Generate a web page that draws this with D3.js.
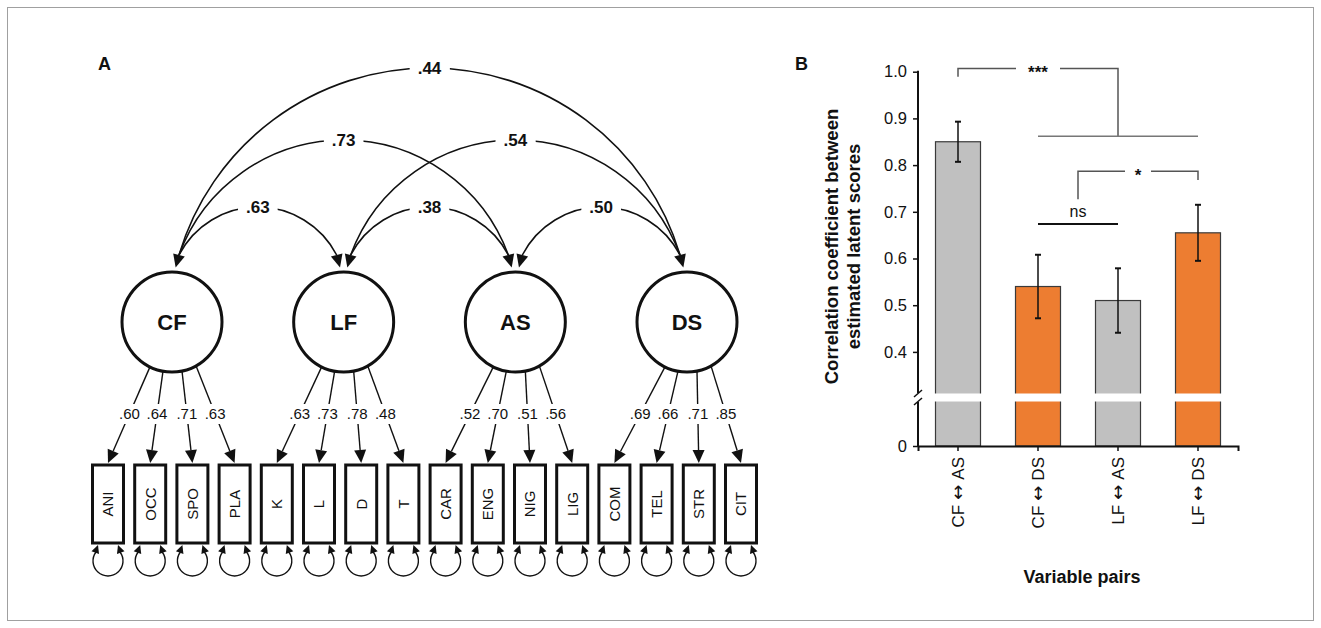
<!DOCTYPE html>
<html><head><meta charset="utf-8">
<script src="https://cdn.jsdelivr.net/npm/d3@7"></script>
<style>
body{margin:0;background:#fff}
svg{display:block}
text{font-family:"Liberation Sans",Arial,Helvetica,sans-serif;fill:#111}
</style>
</head><body>
<svg id="c" width="1321" height="628"></svg>
<script>
// ---------------- data ----------------
const factors = ["CF","LF","AS","DS"];
const indicators = ["ANI","OCC","SPO","PLA","K","L","D","T","CAR","ENG","NIG","LIG","COM","TEL","STR","CIT"];
const indicatorFactor = ["CF","CF","CF","CF","LF","LF","LF","LF","AS","AS","AS","AS","DS","DS","DS","DS"];
const loadings = [0.60,0.64,0.71,0.63,0.63,0.73,0.78,0.48,0.52,0.70,0.51,0.56,0.69,0.66,0.71,0.85];
const covFrom = ["CF","LF","AS","CF","LF","CF"];
const covTo   = ["LF","AS","DS","AS","DS","DS"];
const covValues = [0.63,0.38,0.50,0.73,0.54,0.44];

const pairs = ["CF \u2194 AS","CF \u2194 DS","LF \u2194 AS","LF \u2194 DS"];
const pairGroup = ["AS","DS","AS","DS"];
const corrValues = [0.85,0.54,0.51,0.655];
const corrErrors = [0.043,0.068,0.069,0.06];
const yTickValues = [0,0.4,0.5,0.6,0.7,0.8,0.9,1.0];

// ---------------- helpers ----------------
const svg = d3.select("#c");
const fmtLoad = v => d3.format(".2f")(v).replace(/^0/,"");
function arrowHead(g, tip, angleDeg, len, halfW){
  const a = angleDeg*Math.PI/180;
  const d = [Math.sin(a), Math.cos(a)], p = [Math.cos(a), -Math.sin(a)];
  const b = [tip[0]-len*d[0], tip[1]-len*d[1]];
  g.append("path")
    .attr("d", d3.line()([tip,[b[0]+halfW*p[0], b[1]+halfW*p[1]],[b[0]-halfW*p[0], b[1]-halfW*p[1]]]) + "Z")
    .attr("fill","#111");
  return b;
}

// outer frame
svg.append("rect").attr("x",7.5).attr("y",7.5).attr("width",1306).attr("height",613)
  .attr("fill","none").attr("stroke","#a0a0a0").attr("stroke-width",1);

// ================= Panel A =================
const A = svg.append("g");
A.append("text").attr("x",98).attr("y",70).attr("font-size",18).attr("font-weight","bold").text("A");

const cy = 322, rad = 50;
const xF = d3.scalePoint().domain(factors).range([172, 687]);
const xI = d3.scalePoint().domain(indicators).range([108, 741]);
const peakY = [null, 207, 140, 68];
const baseY = 255, headLen = 13, tilt = 15;

// covariance arcs
const arcG = A.append("g");
const heads = new Map();
covValues.forEach((v,i)=>{
  let a = factors.indexOf(covFrom[i]), b = factors.indexOf(covTo[i]);
  const L = Math.min(a,b), R = Math.max(a,b);
  const x1 = xF(factors[L]) + 7, x2 = xF(factors[R]) - 7;
  const py = peakY[R-L];
  const c = (x2-x1)/2, s = baseY - py;
  const Rr = (c*c + s*s)/(2*s);
  arcG.append("path")
    .attr("d", `M${x1},${baseY} A${Rr},${Rr} 0 0 1 ${x2},${baseY}`)
    .attr("fill","none").attr("stroke","#111").attr("stroke-width",1.6);
  heads.set(factors[L]+"R", [x1, -tilt]);
  heads.set(factors[R]+"L", [x2, tilt]);
});
heads.forEach(([x, t])=>{
  const a = t*Math.PI/180;
  arrowHead(arcG, [x + headLen*Math.sin(a), baseY + headLen*Math.cos(a)], t, headLen, 6);
});
// arc labels
covValues.forEach((v,i)=>{
  let a = factors.indexOf(covFrom[i]), b = factors.indexOf(covTo[i]);
  const L = Math.min(a,b), R = Math.max(a,b);
  const mx = (xF(factors[L]) + 7 + xF(factors[R]) - 7)/2, py = peakY[R-L];
  const bg = arcG.append("rect").attr("fill","#fff");
  const t = arcG.append("text").attr("x",mx).attr("y",py).attr("dy","0.36em")
    .attr("text-anchor","middle").attr("font-size",17).attr("font-weight","bold").text(fmtLoad(v));
  const bb = t.node().getBBox();
  bg.attr("x",bb.x-8).attr("y",py-8).attr("width",bb.width+16).attr("height",16);
});

// latent circles
factors.forEach(f=>{
  A.append("circle").attr("cx",xF(f)).attr("cy",cy).attr("r",rad)
    .attr("fill","#fff").attr("stroke","#111").attr("stroke-width",3);
  A.append("text").attr("x",xF(f)).attr("y",cy).attr("dy","0.36em").attr("text-anchor","middle")
    .attr("font-size",22).attr("font-weight","bold").text(f);
});

// loadings
const offs = [-22,-9,10,24];
const boxTop = 465, boxH = 78, boxW = 31, labY = 414;
const ldG = A.append("g");
indicators.forEach((ind,i)=>{
  const f = indicatorFactor[i];
  const k = indicatorFactor.slice(0,i).filter(d=>d===f).length;
  const dx = offs[k];
  const sx = xF(f)+dx, sy = cy + Math.sqrt(rad*rad - dx*dx);
  const tx = xI(ind), ty = boxTop - 2;
  const ang = Math.atan2(tx-sx, ty-sy)*180/Math.PI;
  const b = arrowHead(ldG, [tx,ty], ang, 13, 6);
  ldG.append("line").attr("x1",sx).attr("y1",sy).attr("x2",b[0]).attr("y2",b[1])
    .attr("stroke","#111").attr("stroke-width",1.4);
  const lx = sx + (tx-sx)*(labY-sy)/(ty-sy);
  const bg = ldG.append("rect").attr("fill","#fff");
  const t = ldG.append("text").attr("x",lx).attr("y",labY).attr("dy","0.36em").attr("text-anchor","middle")
    .attr("font-size",15).text(fmtLoad(loadings[i]));
  const bb = t.node().getBBox();
  bg.attr("x",bb.x-1).attr("y",labY-10).attr("width",bb.width+2).attr("height",20);
});

// indicator boxes + residual loops
indicators.forEach(ind=>{
  const x = xI(ind);
  A.append("rect").attr("x",x-boxW/2).attr("y",boxTop).attr("width",boxW).attr("height",boxH)
    .attr("fill","#fff").attr("stroke","#111").attr("stroke-width",3);
  A.append("text").attr("transform",`translate(${x},${boxTop+boxH/2}) rotate(-90)`)
    .attr("dy","0.36em").attr("text-anchor","middle").attr("font-size",15).text(ind);
  const ly = boxTop+boxH+9;
  A.append("path").attr("d",`M${x-12},${ly} A15,15 0 1 0 ${x+12},${ly}`)
    .attr("fill","none").attr("stroke","#111").attr("stroke-width",1.4);
  arrowHead(A, [x-10, boxTop+boxH+2], 160, 8, 4);
  arrowHead(A, [x+10, boxTop+boxH+2], -160, 8, 4);
});

// ================= Panel B =================
const B = svg.append("g");
B.append("text").attr("x",795).attr("y",70).attr("font-size",18).attr("font-weight","bold").text("B");

const y = d3.scaleLinear().domain([0, 0.3, 1.0]).range([446, 398.6, 71.7]);
const x = d3.scaleBand().domain(pairs).range([918,1238]).paddingInner(0.4375).paddingOuter(0.21875);
const color = d3.scaleOrdinal().domain(["AS","DS"]).range(["#c0c0c0","#ed7d31"]);
const cx = p => x(p) + x.bandwidth()/2;

// bars
B.selectAll("rect.bar").data(pairs).join("rect").attr("class","bar")
  .attr("x",d=>x(d)).attr("width",x.bandwidth())
  .attr("y",(d,i)=>y(corrValues[i])).attr("height",(d,i)=>y(0)-y(corrValues[i]))
  .attr("fill",(d,i)=>color(pairGroup[i])).attr("stroke","#3a3a3a").attr("stroke-width",1.2);
// axis break band
B.append("rect").attr("x",926).attr("y",393.5).attr("width",306).attr("height",8).attr("fill","#fff");

// error bars
pairs.forEach((p,i)=>{
  const X = cx(p), y1 = y(corrValues[i]-corrErrors[i]), y2 = y(corrValues[i]+corrErrors[i]);
  B.append("line").attr("x1",X).attr("x2",X).attr("y1",y1).attr("y2",y2).attr("stroke","#111").attr("stroke-width",1.5);
  [y1,y2].forEach(yy=>B.append("line").attr("x1",X-3).attr("x2",X+3).attr("y1",yy).attr("y2",yy)
    .attr("stroke","#111").attr("stroke-width",2));
});

// y axis
const yAx = B.append("g").attr("transform","translate(918,0)")
  .call(d3.axisLeft(y).tickValues(yTickValues).tickSize(5).tickPadding(6)
    .tickFormat(d=> d===0 ? "0" : d3.format(".1f")(d)));
yAx.select(".domain").remove();
yAx.selectAll(".tick line").attr("stroke","#111").attr("stroke-width",1.5);
yAx.selectAll(".tick text").attr("font-size",16.5).attr("fill","#111")
  .style("font-family",'"Liberation Sans",Arial,sans-serif');
B.append("line").attr("x1",918).attr("x2",918).attr("y1",y(1)-1).attr("y2",393).attr("stroke","#111").attr("stroke-width",2);
B.append("line").attr("x1",918).attr("x2",918).attr("y1",402).attr("y2",447).attr("stroke","#111").attr("stroke-width",2);
B.append("line").attr("x1",914).attr("x2",922).attr("y1",397).attr("y2",390).attr("stroke","#111").attr("stroke-width",1.5);
B.append("line").attr("x1",914).attr("x2",922).attr("y1",405).attr("y2",398).attr("stroke","#111").attr("stroke-width",1.5);

// x axis
const xAx = B.append("g").attr("transform","translate(0,446)")
  .call(d3.axisBottom(x).tickSize(5).tickSizeOuter(5));
xAx.select(".domain").attr("stroke","#111").attr("stroke-width",2);
xAx.selectAll(".tick line").attr("stroke","#111").attr("stroke-width",1.5);
xAx.selectAll(".tick text").attr("font-size",17).attr("fill","#111")
  .style("font-family",'"Liberation Sans",Arial,sans-serif')
  .attr("transform","rotate(-90)").attr("text-anchor","end").attr("x",-11).attr("y",0).attr("dy","0.36em")
  .each(function(d){
    const parts = d.split("\u2194").map(s=>s.trim()), s = d3.select(this);
    s.text(null);
    s.append("tspan").text(parts[0]);
    s.append("tspan").attr("dx",5).style("font-family",'"DejaVu Sans",sans-serif').attr("font-size",18).text("\u2194");
    s.append("tspan").attr("dx",5).text(parts[1]);
  });

// axis titles
const yt = B.append("text").attr("transform","translate(838,246.5) rotate(-90)")
  .attr("text-anchor","middle").attr("font-size",18.5).attr("font-weight","bold");
yt.append("tspan").attr("x",0).attr("y",0).text("Correlation coefficient between");
yt.append("tspan").attr("x",0).attr("y",22).text("estimated latent scores");
B.append("text").attr("x",1082).attr("y",583).attr("text-anchor","middle")
  .attr("font-size",18).attr("font-weight","bold").text("Variable pairs");

// significance annotations
const sg = B.append("g").attr("fill","none").attr("stroke","#555").attr("stroke-width",1.5);
const c1 = cx(pairs[0]), c2 = cx(pairs[1]), c3 = cx(pairs[2]), c4 = cx(pairs[3]);
// ***
const yTop = y(1.007);
sg.append("path").attr("d",`M${c1},${y(0.989)} V${yTop} H${(c1+c3)/2-22}`);
sg.append("path").attr("d",`M${(c1+c3)/2+22},${yTop} H${c3} V${y(0.862)}`);
sg.append("line").attr("x1",c2).attr("x2",c4).attr("y1",y(0.862)).attr("y2",y(0.862)).attr("stroke","#777");
B.append("text").attr("x",(c1+c3)/2).attr("y",yTop+10).attr("text-anchor","middle")
  .attr("font-size",17).attr("font-weight","bold").text("***");
// *
const m23 = (c2+c3)/2, yS = y(0.787);
sg.append("path").attr("d",`M${m23},${y(0.727)} V${yS} H${(m23+c4)/2-13}`);
sg.append("path").attr("d",`M${(m23+c4)/2+13},${yS} H${c4} V${y(0.768)}`);
B.append("text").attr("x",(m23+c4)/2).attr("y",yS+10).attr("text-anchor","middle")
  .attr("font-size",17).attr("font-weight","bold").text("*");
// ns
B.append("line").attr("x1",c2).attr("x2",c3).attr("y1",y(0.674)).attr("y2",y(0.674))
  .attr("stroke","#111").attr("stroke-width",2);
B.append("text").attr("x",m23).attr("y",y(0.674)-7).attr("text-anchor","middle")
  .attr("font-size",16).text("ns");
</script>
</body></html>
